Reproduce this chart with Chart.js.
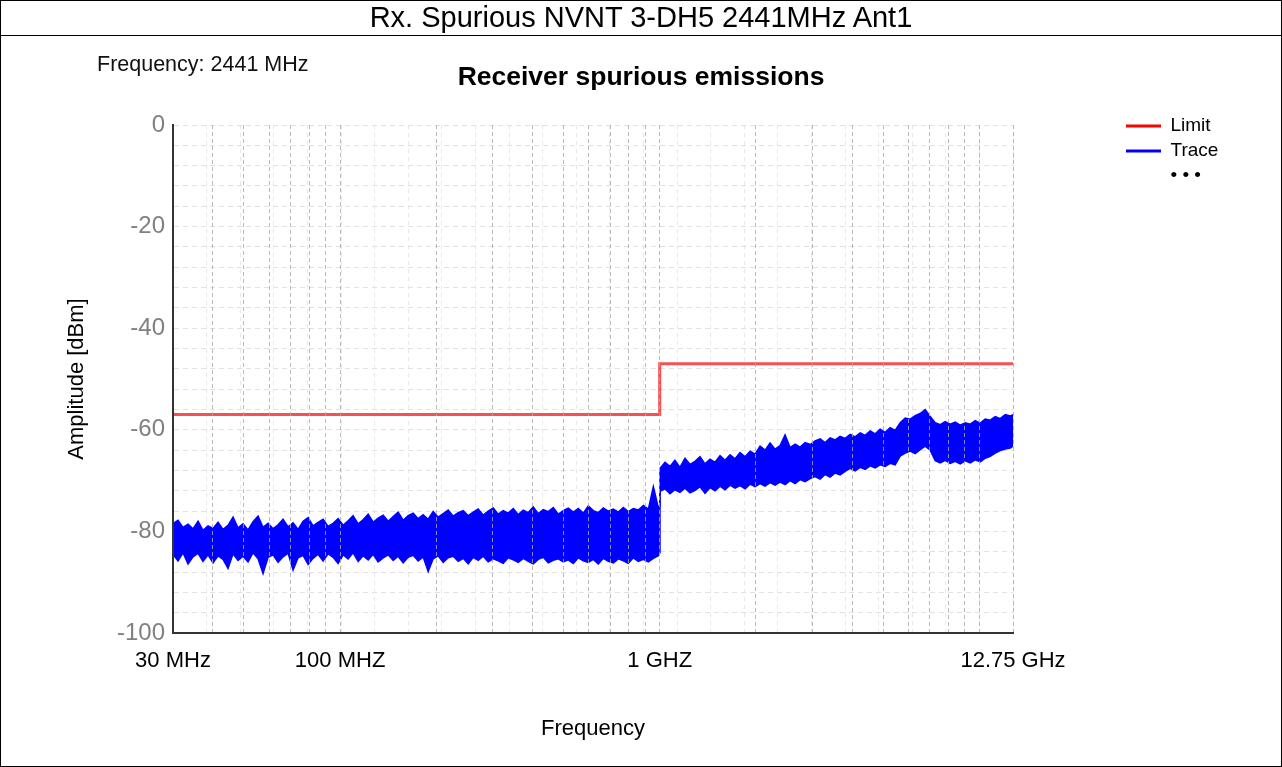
<!DOCTYPE html>
<html>
<head>
<meta charset="utf-8">
<script src="https://cdn.jsdelivr.net/npm/chart.js@4.4.1/dist/chart.umd.min.js"></script>
<style>
html,body{margin:0;padding:0;background:#fff;overflow:hidden;}
#wrap{position:relative;width:1282px;height:767px;}
#c{position:absolute;left:0;top:0;}
#frame{position:absolute;left:0;top:0;width:1282px;height:767px;box-sizing:border-box;border:1px solid #000;pointer-events:none;}
#head{position:absolute;left:0;top:0;width:1282px;height:36px;box-sizing:border-box;border-bottom:1px solid #000;text-align:center;font-family:"Liberation Sans",Arial,sans-serif;font-size:29px;line-height:35px;color:#000;white-space:nowrap;}
#freq{position:absolute;left:97px;top:51px;font-family:"Liberation Sans",Arial,sans-serif;font-size:21.5px;line-height:26px;color:#111;white-space:nowrap;}
</style>
</head>
<body>
<div id="wrap">
  <canvas id="c" width="1282" height="767"></canvas>
  <div id="head">Rx. Spurious NVNT 3-DH5 2441MHz Ant1</div>
  <div id="freq">Frequency: 2441 MHz</div>
  <div id="frame"></div>
</div>
<script>
const FONT = '"Liberation Sans", Arial, sans-serif';
const chartTitle = 'Receiver spurious emissions';
const xAxisTitle = 'Frequency';
const yAxisTitle = 'Amplitude [dBm]';

// Trace noise band: frequency (MHz), upper edge and lower edge (dBm)
const traceFreqMHz = [
  30.0, 31.1, 32.24, 33.43, 34.65, 35.93, 37.24, 38.61, 40.03, 41.5,
  43.02, 44.6, 46.24, 47.93, 49.69, 51.52, 53.41, 55.37, 57.4, 59.51,
  61.69, 63.96, 66.3, 68.74, 71.26, 73.88, 76.59, 79.4, 82.31, 85.33,
  88.47, 91.71, 95.08, 98.57, 102.2, 105.9, 109.8, 113.9, 118.0, 122.4,
  126.9, 131.5, 136.4, 141.4, 146.6, 151.9, 157.5, 163.3, 169.3, 175.5,
  181.9, 188.6, 195.5, 202.7, 210.2, 217.9, 225.9, 234.2, 242.8, 251.7,
  260.9, 270.5, 280.4, 290.7, 301.4, 312.5, 323.9, 335.8, 348.2, 360.9,
  374.2, 387.9, 402.2, 416.9, 432.2, 448.1, 464.5, 481.6, 499.3, 517.6,
  536.6, 556.3, 576.7, 597.9, 619.8, 642.6, 666.2, 690.6, 716.0, 742.2,
  769.5, 797.7, 827.0, 857.4, 888.8, 921.5, 955.3, 990.4, 998,
  1002, 1039, 1077, 1116, 1157, 1200, 1244, 1290, 1337, 1386,
  1437, 1490, 1545, 1601, 1660, 1721, 1784, 1850, 1918, 1988,
  2061, 2137, 2215, 2296, 2381, 2468, 2559, 2653, 2750, 2851,
  2956, 3064, 3177, 3293, 3414, 3540, 3670, 3804, 3944, 4089,
  4239, 4394, 4556, 4723, 4896, 5076, 5262, 5455, 5656, 5863,
  6078, 6302, 6533, 6773, 7021, 7279, 7546, 7823, 8110, 8408,
  8716, 9036, 9368, 9712, 10068, 10438, 10821, 11218, 11630, 12057,
  12500, 12750
];
const traceMaxDbm = [
  -78.5, -77.8, -79.2, -78.6, -79.5, -78.0, -79.8, -78.9, -79.4, -78.2,
  -79.6, -78.8, -77.2, -79.3, -78.5, -79.7, -78.1, -77.0, -79.2, -78.4,
  -79.5, -78.7, -77.6, -79.1, -78.3, -79.6, -78.0, -77.3, -78.9, -78.2,
  -77.6, -79.0, -78.4, -77.5, -78.8, -77.9, -76.9, -78.5, -77.7, -76.6,
  -78.2, -77.4, -76.8, -78.0, -77.1, -76.2, -77.8, -76.9, -76.4, -77.5,
  -76.7, -77.6, -76.1, -77.2, -76.5, -75.8, -77.0, -76.3, -75.9, -76.9,
  -76.2, -75.6, -76.8, -76.0, -75.4, -76.6, -75.9, -76.4, -75.5, -76.7,
  -75.8, -76.3, -75.2, -76.5, -75.7, -76.1, -75.3, -76.6, -75.9, -75.4,
  -76.2, -75.5, -76.4, -75.0, -75.9, -76.3, -75.4, -76.0, -75.6, -76.2,
  -75.3, -76.1, -75.5, -75.8, -74.9, -75.6, -71.2, -75.4, -75.0,
  -67.6, -66.4, -67.2, -66.0, -67.4, -65.6, -66.8, -66.2, -65.3, -66.7,
  -65.8, -66.4, -65.1, -66.0, -64.9, -65.7, -64.5, -65.3, -64.2, -64.8,
  -63.2, -64.0, -62.6, -63.8, -63.1, -61.0, -63.5, -62.8, -63.4, -62.5,
  -62.9, -62.2, -61.8, -62.5, -61.6, -62.0, -61.3, -61.7, -60.9, -61.4,
  -60.6, -61.1, -60.2, -60.8, -59.9, -60.5, -59.6, -60.1, -58.6, -57.7,
  -57.9, -57.2, -56.8, -56.0, -57.4, -58.6, -59.0, -58.4, -58.9, -58.5,
  -59.1, -58.6, -58.9, -58.2, -58.7, -57.9, -58.1, -57.4, -57.8, -57.0,
  -57.3, -57.0
];
const traceMinDbm = [
  -84.5, -85.8, -84.2, -86.4, -85.0, -84.3, -85.9, -84.6, -86.2, -84.8,
  -85.5, -87.3, -84.4, -85.7, -84.9, -86.0, -84.2, -85.4, -88.3, -85.1,
  -84.6, -86.1, -85.0, -84.3, -87.6, -85.2, -84.7, -86.5, -85.3, -84.5,
  -85.8, -84.4, -85.1, -86.3, -84.6, -85.4, -84.2, -85.9, -84.8, -85.6,
  -84.5, -86.0, -85.2, -84.6, -85.7, -84.9, -86.2, -85.1, -84.7, -85.8,
  -85.0, -87.9, -85.4, -84.8, -86.1, -85.2, -84.9, -85.9, -85.3, -86.4,
  -85.1, -85.7, -84.9, -86.0, -85.4, -85.8, -86.3, -85.2, -85.6, -86.1,
  -85.3, -85.9, -86.4, -85.5, -85.1, -86.2, -85.7, -85.4, -86.0, -85.6,
  -86.3, -85.2, -85.8, -86.1, -85.5, -86.4, -85.3, -85.9, -86.2, -85.4,
  -85.8, -86.3, -85.2, -85.9, -85.5, -86.0, -85.3, -84.8, -84.2,
  -72.1, -71.6, -72.6, -71.8, -72.3, -71.5, -72.4, -71.9, -71.2, -72.5,
  -71.4, -72.0, -71.1, -71.8, -70.9, -71.5, -71.0, -71.6, -70.7, -71.2,
  -70.6, -71.1, -70.4, -70.9, -70.3, -70.8, -70.0, -70.6, -69.8, -70.2,
  -69.6, -69.2, -69.7, -68.8, -69.3, -68.5, -68.9, -68.2, -67.6, -68.1,
  -67.4, -67.8, -67.1, -67.5, -66.9, -67.2, -66.6, -66.9, -65.2, -64.6,
  -64.2, -64.7, -63.9, -63.2, -64.0, -66.1, -66.5, -66.0, -66.6, -66.2,
  -66.7, -66.1, -66.5, -65.9, -66.3, -65.6, -65.2, -64.6, -64.1, -63.8,
  -63.6, -63.2
];

// Limit line
const limitFreqMHz = [30, 1000, 1000, 12750];
const limitDbm = [-57, -57, -47, -47];

// Axes
const xGridMHz = [30, 40, 50, 60, 70, 80, 90, 100, 200, 300, 400, 500, 600, 700, 800, 900,
  1000, 2000, 3000, 4000, 5000, 6000, 7000, 8000, 9000, 10000, 12750];
const xTickMHz = [30, 100, 1000, 12750];
const xTickLabels = ['30 MHz', '100 MHZ', '1 GHZ', '12.75 GHz'];
const yTickDbm = [0, -20, -40, -60, -80, -100];
const legendLabels = ['Limit', 'Trace', '\u2022 \u2022 \u2022'];
const legendColors = ['#ff0000', '#0000ff', 'rgba(0,0,0,0)'];

const toPts = (xs, ys) => xs.map((x, i) => ({x: x, y: ys[i]}));

new Chart(document.getElementById('c'), {
  type: 'line',
  data: {
    datasets: [
      {label: 'Limit', data: toPts(limitFreqMHz, limitDbm), borderColor: 'rgb(246,80,80)', backgroundColor: '#ff0000',
       borderWidth: 3, pointRadius: 0, fill: false, tension: 0},
      {label: 'Trace', data: toPts(traceFreqMHz, traceMaxDbm), borderColor: '#0000ff', backgroundColor: '#0000ff',
       borderWidth: 1.5, pointRadius: 0, fill: '+1', tension: 0},
      {label: 'Trace min', data: toPts(traceFreqMHz, traceMinDbm), borderColor: '#0000ff', backgroundColor: '#0000ff',
       borderWidth: 1.5, pointRadius: 0, fill: false, tension: 0}
    ]
  },
  options: {
    responsive: false,
    animation: false,
    devicePixelRatio: 1,
    layout: {padding: {top: 36, left: 60, right: 60, bottom: 7}},
    plugins: {
      title: {display: true, text: chartTitle, color: '#000',
        font: {family: FONT, size: 26.5, weight: 'bold'}, padding: {top: 26, bottom: 31.2}},
      legend: {
        display: true, position: 'right', align: 'start', maxWidth: 102,
        title: {display: true, text: ' ', font: {size: 10}, padding: {top: 62.5, bottom: 0}},
        labels: {
          boxWidth: 35, boxHeight: 3, padding: 6, color: '#000', font: {family: FONT, size: 19},
          generateLabels: () => legendLabels.map((t, i) => ({
            text: t, fillStyle: legendColors[i], strokeStyle: legendColors[i], lineWidth: 0,
            fontColor: '#000', hidden: false, datasetIndex: i < 2 ? i : undefined
          }))
        },
        onClick: () => {}
      },
      tooltip: {enabled: false}
    },
    scales: {
      x: {
        type: 'logarithmic', position: 'bottom', min: 30, max: 12750,
        afterBuildTicks: (s) => { s.ticks = xGridMHz.map(v => ({value: v})); },
        afterFit: (s) => { s.height = 127; },
        grid: {color: 'rgba(170,170,170,0.8)', lineWidth: 1, drawTicks: false, z: 1},
        border: {display: true, color: '#333', width: 2, dash: [4, 3], z: 1},
        ticks: {autoSkip: false, maxRotation: 0, padding: 15, color: '#000', font: {family: FONT, size: 22},
          callback: (v) => { const i = xTickMHz.indexOf(v); return i >= 0 ? xTickLabels[i] : ''; }},
        title: {display: true, text: xAxisTitle, color: '#000', font: {family: FONT, size: 22}, padding: {top: 0, bottom: 18}}
      },
      x2: {
        type: 'linear', position: 'bottom', min: 0, max: 25,
        afterFit: (s) => { s.height = 0; },
        grid: {color: '#e8e8e8', drawTicks: false},
        border: {display: false, dash: [4, 4]},
        ticks: {display: false, stepSize: 1}
      },
      y: {
        type: 'linear', position: 'left', min: -100, max: 0,
        afterFit: (s) => { s.width = 113; },
        grid: {color: '#e2e2e2', drawTicks: false},
        border: {display: true, color: '#333', width: 2, dash: [5, 4], z: 2},
        ticks: {stepSize: 4, autoSkip: false, padding: 8, color: '#808080', font: {family: FONT, size: 24},
          callback: (v) => yTickDbm.includes(v) ? String(v) : ''},
        title: {display: true, text: yAxisTitle, color: '#000', font: {family: FONT, size: 22}, padding: {top: 4, bottom: 0}}
      },
      y2: {
        type: 'linear', position: 'right', min: -100, max: 0,
        afterFit: (s) => { s.width = 107; },
        grid: {display: false}, border: {display: false}, ticks: {display: false}
      }
    }
  }
});
</script>
</body>
</html>
